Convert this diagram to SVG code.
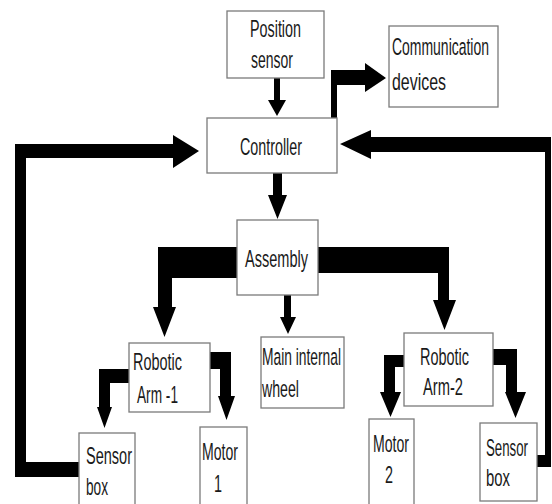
<svg xmlns="http://www.w3.org/2000/svg" width="552" height="504" viewBox="0 0 552 504">
<style>
.box{fill:#fff;stroke:#7a7a7a;stroke-width:1.3}
.t{font-family:"Liberation Sans",Arial,sans-serif;font-size:24.5px;fill:#1a1a1a}
.a{fill:#000;stroke:none}
</style>
<rect width="552" height="504" fill="#fff"/>
<g id="connectors">
<polygon class="a" points="274,78 280,78 280,100 286,100 277,116 268,100 274,100"/>
<polygon class="a" points="273,173 282,173 282,195 287,195 277.5,219 268,195 273,195"/>
<polygon class="a" points="284,295 291,295 291,317 296,317 288,334 280,317 284,317"/>
<polygon class="a" points="331,118 331,70 365,70 365,63 386,78 365,92 365,85 337,85 337,118"/>
<polygon class="a" points="537,455 545,455 545,152 371,152 371,159 340,144 371,130 371,137 551,137 551,467 537,467"/>
<polygon class="a" points="79,462 26,462 26,158 173,158 173,168 199,151 173,135 173,144 15,144 15,477 79,477"/>
<polygon class="a" points="237,247 158,247 158,307 153,307 164.5,337 176,307 172,307 172,278 237,278"/>
<polygon class="a" points="318,247 449,247 449,300 456,300 444.5,330 433,300 438,300 438,273 318,273"/>
<polygon class="a" points="129,369 99,369 99,407 97,407 104.5,428 112,407 110,407 110,383 129,383"/>
<polygon class="a" points="210,352 231,352 231,396 235,396 226.5,420 218,396 220,396 220,369 210,369"/>
<polygon class="a" points="404,355 384,355 384,392 380,392 390.5,417 401,392 395,392 395,367 404,367"/>
<polygon class="a" points="493,349 517,349 517,392 526,392 515.5,418 505,392 506,392 506,365 493,365"/>
</g>
<g id="position-sensor">
<rect class="box" x="227" y="11" width="97" height="67"/>
<text class="t" x="250" y="37" textLength="51" lengthAdjust="spacingAndGlyphs">Position</text>
<text class="t" x="251" y="68" textLength="42" lengthAdjust="spacingAndGlyphs">sensor</text>
</g>
<g id="communication-devices">
<rect class="box" x="389" y="26" width="109" height="81"/>
<text class="t" x="392" y="55" textLength="97" lengthAdjust="spacingAndGlyphs">Communication</text>
<text class="t" x="392" y="90" textLength="54" lengthAdjust="spacingAndGlyphs">devices</text>
</g>
<g id="controller">
<rect class="box" x="207" y="118" width="130" height="55"/>
<text class="t" x="240" y="155" textLength="62" lengthAdjust="spacingAndGlyphs">Controller</text>
</g>
<g id="assembly">
<rect class="box" x="237" y="220" width="81" height="75"/>
<text class="t" x="245" y="267" textLength="63" lengthAdjust="spacingAndGlyphs">Assembly</text>
</g>
<g id="robotic-arm-1">
<rect class="box" x="129" y="343" width="81" height="69"/>
<text class="t" x="133" y="370" textLength="49" lengthAdjust="spacingAndGlyphs">Robotic</text>
<text class="t" x="137" y="403" textLength="41" lengthAdjust="spacingAndGlyphs">Arm -1</text>
</g>
<g id="main-internal-wheel">
<rect class="box" x="261" y="337" width="83" height="71"/>
<text class="t" x="262" y="365" textLength="79" lengthAdjust="spacingAndGlyphs">Main internal</text>
<text class="t" x="262" y="397" textLength="37" lengthAdjust="spacingAndGlyphs">wheel</text>
</g>
<g id="robotic-arm-2">
<rect class="box" x="404" y="333" width="89" height="73"/>
<text class="t" x="420" y="365" textLength="49" lengthAdjust="spacingAndGlyphs">Robotic</text>
<text class="t" x="423" y="395" textLength="40" lengthAdjust="spacingAndGlyphs">Arm-2</text>
</g>
<g id="sensor-box-1">
<rect class="box" x="79" y="433" width="56" height="80"/>
<text class="t" x="86" y="464" textLength="46" lengthAdjust="spacingAndGlyphs">Sensor</text>
<text class="t" x="86" y="495" textLength="22" lengthAdjust="spacingAndGlyphs">box</text>
</g>
<g id="motor-1">
<rect class="box" x="200" y="427" width="47" height="86"/>
<text class="t" x="202" y="460" textLength="36" lengthAdjust="spacingAndGlyphs">Motor</text>
<text class="t" x="218" y="492" text-anchor="middle" textLength="8" lengthAdjust="spacingAndGlyphs">1</text>
</g>
<g id="motor-2">
<rect class="box" x="369" y="419" width="45" height="94"/>
<text class="t" x="373" y="452" textLength="36" lengthAdjust="spacingAndGlyphs">Motor</text>
<text class="t" x="389" y="483" text-anchor="middle" textLength="8" lengthAdjust="spacingAndGlyphs">2</text>
</g>
<g id="sensor-box-2">
<rect class="box" x="480" y="423" width="57" height="78"/>
<text class="t" x="486" y="456" textLength="42" lengthAdjust="spacingAndGlyphs">Sensor</text>
<text class="t" x="486" y="486" textLength="24" lengthAdjust="spacingAndGlyphs">box</text>
</g>
</svg>
